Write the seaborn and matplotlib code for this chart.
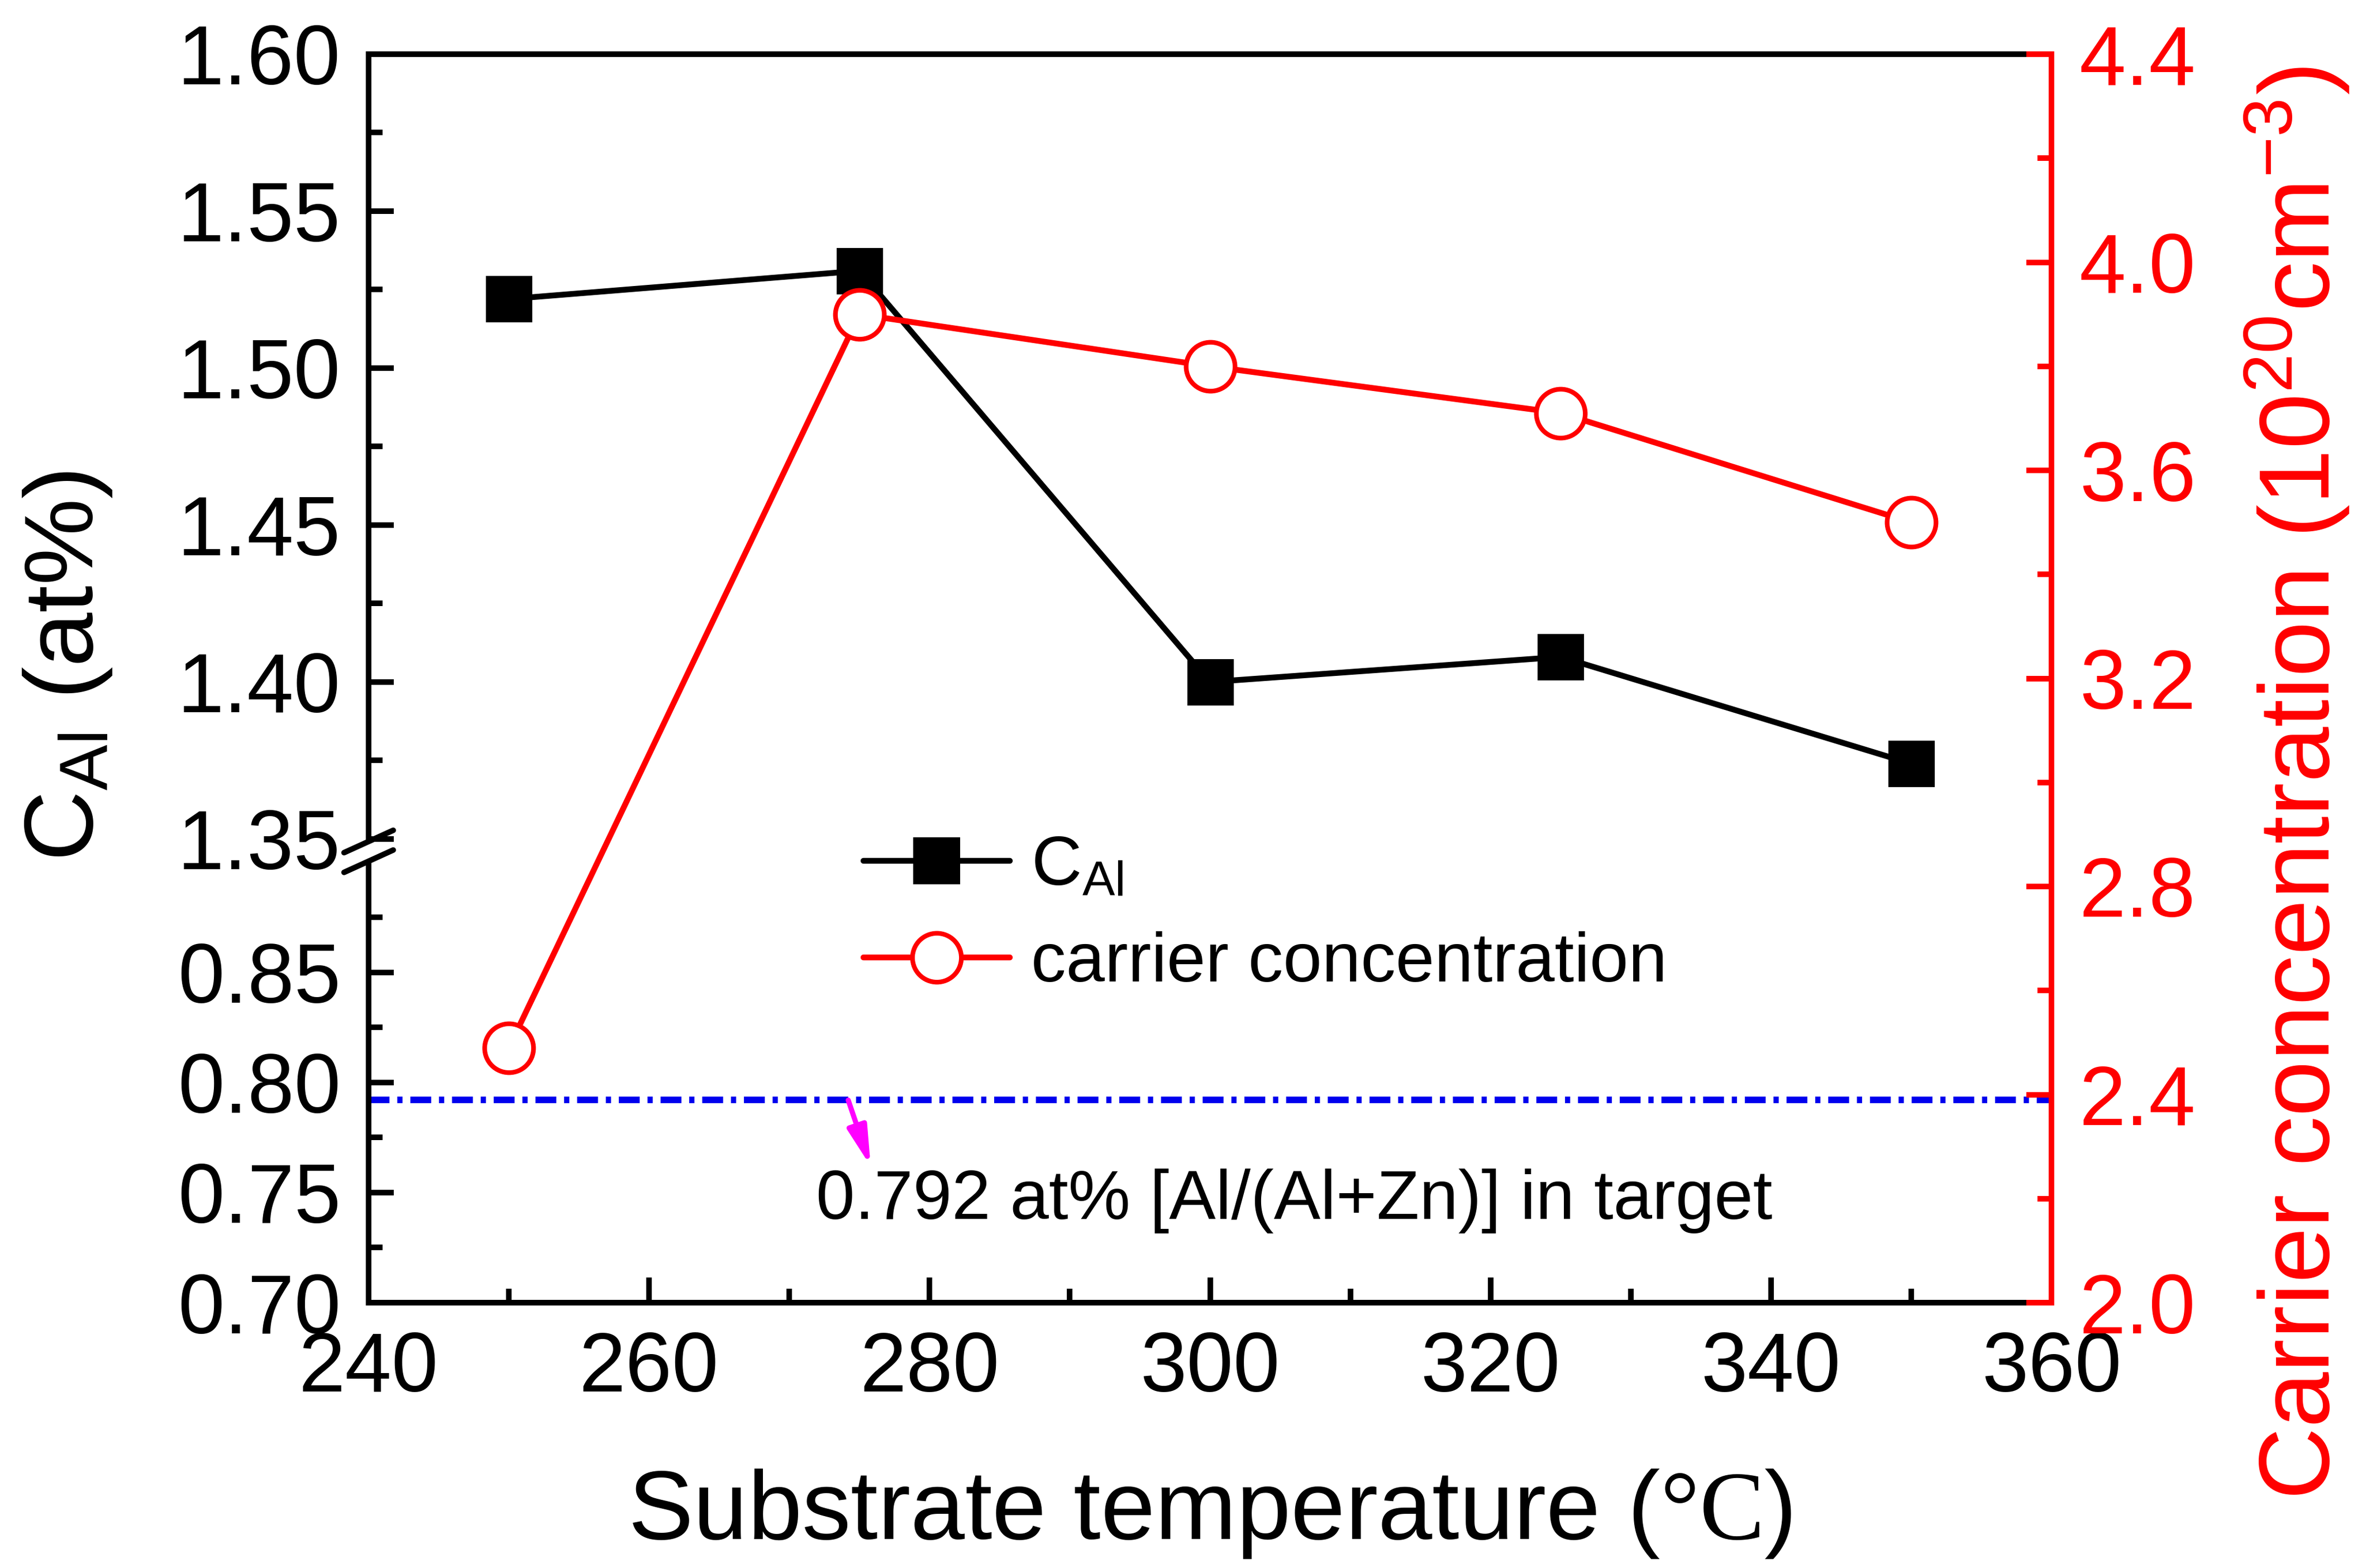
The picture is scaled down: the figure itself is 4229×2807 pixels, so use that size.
import numpy as np
import matplotlib
matplotlib.use("Agg")
import matplotlib.pyplot as plt
from matplotlib.ticker import FixedLocator, FormatStrFormatter, MultipleLocator
from matplotlib.lines import Line2D
import seaborn as sns

# ---------------- data ----------------
temperature = [250, 275, 300, 325, 350]
c_al = [1.522, 1.531, 1.400, 1.408, 1.374]
carrier = [2.49, 3.90, 3.80, 3.71, 3.50]
target_al = 0.792
left_major = [0.70, 0.75, 0.80, 0.85, 1.35, 1.40, 1.45, 1.50, 1.55, 1.60]
left_minor = [0.725, 0.775, 0.825, 0.875, 1.375, 1.425, 1.475, 1.525, 1.575]
annot_text = "0.792 at% [Al/(Al+Zn)] in target"

# ---------------- style ----------------
sns.set_style("ticks")
plt.rcParams["font.family"] = ["Liberation Sans", "DejaVu Sans"]
plt.rcParams.update({
    "mathtext.fontset": "custom",
    "mathtext.rm": "Liberation Serif",
    "mathtext.sf": "Liberation Sans",
    "mathtext.it": "Liberation Sans:italic",
    "mathtext.bf": "Liberation Sans:bold",
    "text.color": "black",
    "axes.labelcolor": "black",
    "xtick.color": "black",
    "ytick.color": "black",
    "axes.edgecolor": "black",
})

W, H, DPI = 4229, 2807, 300
fig = plt.figure(figsize=(W / DPI, H / DPI), dpi=DPI)
L, R, T, B = 660, 3673, 97, 2332
ax = fig.add_axes([L / W, 1 - B / H, (R - L) / W, (B - T) / H])

# broken-axis mapping for the left scale
Y_LO0, Y_LO1, Y_HI0, Y_HI1 = 0.70, 0.90, 1.35, 1.60
V_LO1, V_HI0 = 0.3526, 0.3714
s_lo = V_LO1 / (Y_LO1 - Y_LO0)
s_hi = (1 - V_HI0) / (Y_HI1 - Y_HI0)
s_mid = (V_HI0 - V_LO1) / (Y_HI0 - Y_LO1)


def fwd(y):
    y = np.asarray(y, dtype=float)
    return np.where(y <= Y_LO1, (y - Y_LO0) * s_lo,
                    np.where(y >= Y_HI0, V_HI0 + (y - Y_HI0) * s_hi,
                             V_LO1 + (y - Y_LO1) * s_mid))


def inv(v):
    v = np.asarray(v, dtype=float)
    return np.where(v <= V_LO1, Y_LO0 + v / s_lo,
                    np.where(v >= V_HI0, Y_HI0 + (v - V_HI0) / s_hi,
                             Y_LO1 + (v - V_LO1) / s_mid))


LW = 2.4
DLW = 2.5
black = "black"
red = "#ff0000"

sns.lineplot(x=temperature, y=c_al, ax=ax, color=black, marker="s",
             markersize=19, markeredgecolor=black, markerfacecolor=black,
             linewidth=DLW, legend=False, zorder=3)
ax.axhline(target_al, color="#0000ee", lw=2.8, dashes=(3.2, 1.2, 0.8, 1.2), zorder=2)

ax.set_yscale("function", functions=(fwd, inv))
ax.set_ylim(Y_LO0, Y_HI1)
ax.set_xlim(240, 360)
ax.yaxis.set_major_locator(FixedLocator(left_major))
ax.yaxis.set_minor_locator(FixedLocator(left_minor))
ax.yaxis.set_major_formatter(FormatStrFormatter("%.2f"))
ax.xaxis.set_major_locator(MultipleLocator(20))
ax.xaxis.set_minor_locator(MultipleLocator(10))

ax.tick_params(axis="both", which="major", direction="in", length=10.8, width=LW,
               labelsize=36, pad=12, color=black, labelcolor=black)
ax.tick_params(axis="both", which="minor", direction="in", length=6, width=LW, color=black)
ax.tick_params(axis="x", top=False)
ax.tick_params(axis="y", right=False)

for side in ["top", "bottom"]:
    ax.spines[side].set_linewidth(LW)
    ax.spines[side].set_color(black)
ax.spines["left"].set_visible(False)
ax.spines["right"].set_visible(False)

# broken left spine
ytr = ax.get_yaxis_transform()
for y0, y1 in [(Y_LO0, Y_LO1), (Y_HI0, Y_HI1)]:
    ax.plot([0, 0], [y0, y1], transform=ytr, color=black, lw=LW,
            solid_capstyle="projecting", clip_on=False, zorder=5)
# break marks
dx, dy = 44 / (R - L), 20 / (B - T)
for vc in [V_HI0 - 0.002, V_LO1 + 0.001]:
    ax.plot([-dx, dx], [vc - dy, vc + dy], transform=ax.transAxes, color=black,
            lw=LW, solid_capstyle="round", clip_on=False, zorder=6)

# right axis
ax2 = ax.twinx()
sns.lineplot(x=temperature, y=carrier, ax=ax2, color=red, marker="o",
             markersize=21, markeredgecolor=red, markerfacecolor="white",
             markeredgewidth=2.0, linewidth=DLW, legend=False, zorder=3)
ax2.set_ylim(2.0, 4.4)
ax2.yaxis.set_major_locator(MultipleLocator(0.4))
ax2.yaxis.set_minor_locator(MultipleLocator(0.2))
ax2.yaxis.set_major_formatter(FormatStrFormatter("%.1f"))
ax2.tick_params(axis="y", which="major", direction="in", length=10.8, width=LW,
                labelsize=36, pad=12, color=red, labelcolor=red)
ax2.tick_params(axis="y", which="minor", direction="in", length=6, width=LW, color=red)
for side in ["top", "bottom", "left"]:
    ax2.spines[side].set_visible(False)
ax2.spines["right"].set_color(red)
ax2.spines["right"].set_linewidth(LW)

# labels
ax.set_xlabel(r"Substrate temperature ($\mathrm{°C}$)", fontsize=42, color=black)
ax.xaxis.label.set_verticalalignment("center")
ax.xaxis.set_label_coords(0.5, -0.169)

ax.set_ylabel(r"C$_{\mathsf{Al}}$ (at%)", fontsize=42, color=black)
ax.yaxis.label.set_verticalalignment("center")
ax.yaxis.label.set_horizontalalignment("center")
ax.yaxis.set_label_coords(-0.179, 0.51)

ax2.set_ylabel(r"Carrier concentration (10$^{\mathsf{20}}$cm$^{\mathsf{-3}}$)",
               fontsize=43, color=red, rotation=90)
ax2.yaxis.label.set_verticalalignment("center")
ax2.yaxis.label.set_horizontalalignment("center")
ax2.yaxis.set_label_coords(1.146, 0.416)

# annotation
ax.annotate("", xy=(275.8, 0.762), xytext=(274.2, target_al),
            arrowprops=dict(arrowstyle="-|>,head_length=1.4,head_width=0.35",
                            color="#ff00ff", lw=2.2, shrinkA=0, shrinkB=0), zorder=4)
ax.text(271.9, 0.7462, annot_text, fontsize=30, ha="left", va="center", color=black)

# legend
h1 = Line2D([], [], color=black, lw=DLW, marker="s", markersize=19,
            markerfacecolor=black, markeredgecolor=black)
h2 = Line2D([], [], color=red, lw=DLW, marker="o", markersize=21,
            markerfacecolor="white", markeredgecolor=red, markeredgewidth=2.0)
leg = ax2.legend([h1, h2], [r"C$_{\mathsf{Al}}$", "carrier concentration"],
                 loc="center left", bbox_to_anchor=(0.294, 0.31), frameon=False,
                 fontsize=30, handlelength=2.1, handletextpad=0.3, labelspacing=0.45,
                 borderpad=0, borderaxespad=0, numpoints=1)
for t in leg.get_texts():
    t.set_color(black)

fig.savefig("out.png", dpi=DPI)
